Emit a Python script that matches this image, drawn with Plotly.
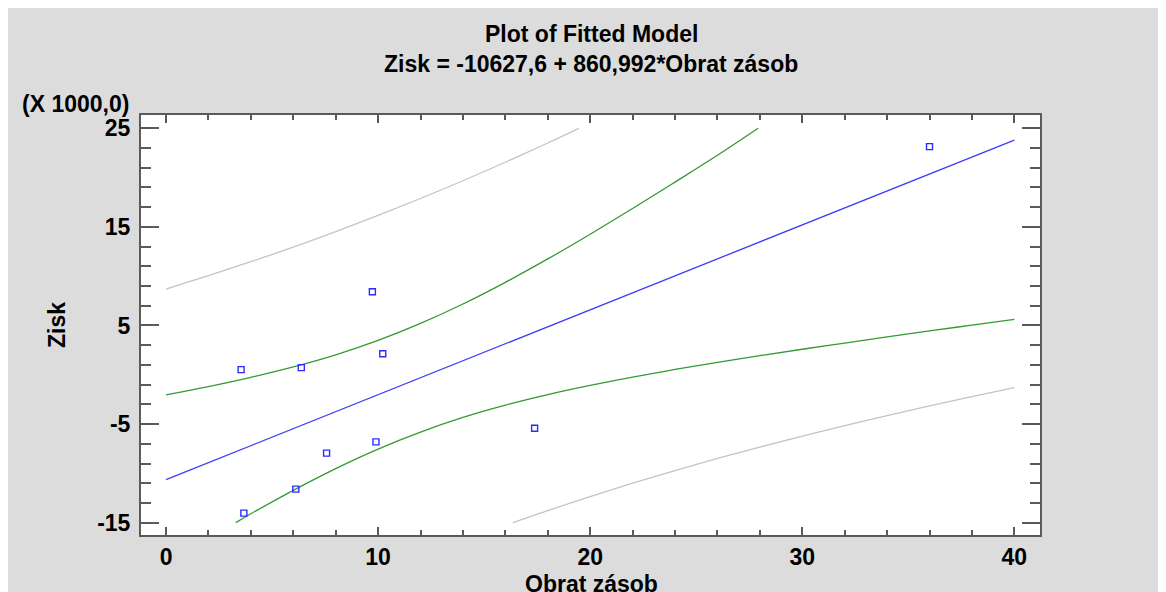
import plotly.graph_objects as go

# Observed data (Obrat zásob, Zisk in thousands)
obs_x = [3.54, 6.38, 10.22, 7.57, 9.90, 6.12, 3.67, 17.38, 9.73, 36.0]
obs_y = [0.52, 0.73, 2.14, -7.95, -6.80, -11.6, -14.03, -5.42, 8.42, 23.14]

# Fitted line
fit_x = [0, 40]
fit_y = [-10.63, 23.81]

# Confidence limits (green)
ci_up_x = [0, 2, 4, 6, 8, 10, 12, 14, 16, 18, 20, 22, 24, 26, 27.92]
ci_up_y = [-2.04, -1.20, -0.26, 0.80, 2.03, 3.49, 5.21, 7.18, 9.38, 11.75, 14.26, 16.86, 19.54, 22.26, 25.0]
ci_lo_x = [3.29, 4, 6, 8, 10, 12, 14, 16, 18, 20, 22, 24, 26, 28, 30, 32, 34, 36, 38, 40]
ci_lo_y = [-15.0, -14.10, -11.72, -9.51, -7.53, -5.81, -4.33, -3.08, -2.01, -1.08, -0.24, 0.54,
           1.26, 1.94, 2.59, 3.22, 3.85, 4.45, 5.04, 5.62]

# Prediction limits (gray)
pi_up_x = [0, 2, 4, 6, 8, 10, 12, 14, 16, 18, 19.47]
pi_up_y = [8.70, 10.05, 11.47, 12.95, 14.52, 16.16, 17.88, 19.68, 21.56, 23.51, 25.0]
pi_lo_x = [16.35, 18, 20, 22, 24, 26, 28, 30, 32, 34, 36, 38, 40]
pi_lo_y = [-15.0, -13.77, -12.35, -11.0, -9.71, -8.49, -7.33, -6.22, -5.16, -4.13, -3.16, -2.22, -1.31]

x_ticks = [0, 10, 20, 30, 40]
y_ticks = [-15, -5, 5, 15, 25]

OFF = 8  # page body margin
W, H = 1166, 592
# plot area in screen pixels: x 141..1040, y 115..535
L = 141 - OFF
T = 115 - OFF
R = W - (1040 - OFF)
B = H - (535 - OFF)
PW, PH = W - L - R, H - T - B

def px(sx):
    return (sx - OFF - L) / PW

def py(sy):
    return (H - B - (sy - OFF)) / PH

FONT = "Liberation Sans, Arial, sans-serif"
AX = "#5a5a5a"
FS = 23

fig = go.Figure()
fig.add_trace(go.Scatter(x=pi_up_x, y=pi_up_y, mode="lines", line=dict(color="#c4c4c4", width=1.3, shape="spline"), hoverinfo="skip"))
fig.add_trace(go.Scatter(x=pi_lo_x, y=pi_lo_y, mode="lines", line=dict(color="#c4c4c4", width=1.3, shape="spline"), hoverinfo="skip"))
fig.add_trace(go.Scatter(x=ci_up_x, y=ci_up_y, mode="lines", line=dict(color="#339933", width=1.3, shape="spline"), hoverinfo="skip"))
fig.add_trace(go.Scatter(x=ci_lo_x, y=ci_lo_y, mode="lines", line=dict(color="#339933", width=1.3, shape="spline"), hoverinfo="skip"))
fig.add_trace(go.Scatter(x=fit_x, y=fit_y, mode="lines", line=dict(color="#3b3bff", width=1.3)))
fig.add_trace(go.Scatter(x=obs_x, y=obs_y, mode="markers",
                         marker=dict(symbol="square-open", size=6, color="#2b2bff", line=dict(width=1.4))))

fig.update_layout(
    width=W, height=H,
    margin=dict(l=L, r=R, t=T, b=B),
    paper_bgcolor="#dcdcdc",
    plot_bgcolor="white",
    showlegend=False,
    font=dict(family=FONT, color="black", size=FS),
)

fig.update_xaxes(
    range=[-1.18, 41.21], showgrid=False, zeroline=False,
    showline=True, linecolor=AX, linewidth=2, mirror="ticks",
    ticks="inside", ticklen=8, tickwidth=2, tickcolor=AX,
    tickvals=x_ticks, ticktext=[str(v) for v in x_ticks],
    tickfont=dict(family=FONT, size=FS, color="black", weight="bold"),
    minor=dict(ticks="inside", dtick=2, tick0=0, ticklen=5, tickwidth=1.5, tickcolor=AX),
    ticklabelstandoff=0,
)
fig.update_yaxes(
    range=[-16.25, 26.35], showgrid=False, zeroline=False,
    showline=True, linecolor=AX, linewidth=2, mirror="ticks",
    ticks="inside", ticklen=18, tickwidth=2, tickcolor=AX,
    tickvals=y_ticks, ticktext=[str(v) for v in y_ticks],
    tickfont=dict(family=FONT, size=FS, color="black", weight="bold"),
    minor=dict(ticks="inside", dtick=2, tick0=-15, ticklen=10, tickwidth=1.5, tickcolor=AX),
    ticklabelstandoff=4,
)

ann_font = dict(family=FONT, size=FS, color="black", weight="bold")
fig.add_annotation(x=px(591), y=py(34), xref="paper", yref="paper", text="Plot of Fitted Model",
                   showarrow=False, font=ann_font, xanchor="center", yanchor="middle")
fig.add_annotation(x=px(591), y=py(64), xref="paper", yref="paper",
                   text="Zisk = -10627,6 + 860,992*Obrat zásob",
                   showarrow=False, font=ann_font, xanchor="center", yanchor="middle")
fig.add_annotation(x=px(131), y=py(104), xref="paper", yref="paper", text="(X 1000,0)",
                   showarrow=False, font=ann_font, xanchor="right", yanchor="middle")
fig.add_annotation(x=px(57), y=py(325), xref="paper", yref="paper", text="Zisk", textangle=-90,
                   showarrow=False, font=ann_font, xanchor="center", yanchor="middle")
fig.add_annotation(x=px(591), y=py(584), xref="paper", yref="paper", text="Obrat zásob",
                   showarrow=False, font=ann_font, xanchor="center", yanchor="middle")

fig.write_html("out.html")
